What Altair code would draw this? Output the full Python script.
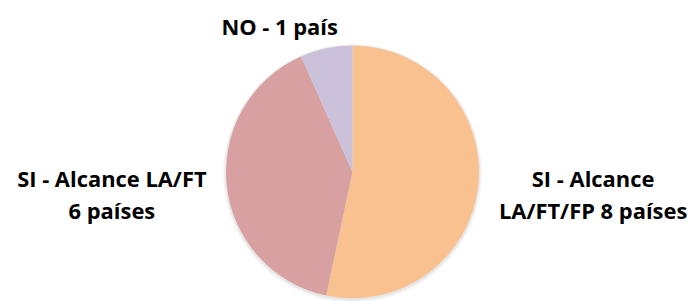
import altair as alt
import pandas as pd

categorias = ["SI - Alcance LA/FT/FP", "SI - Alcance LA/FT", "NO"]
paises = [8, 6, 1]
etiquetas = ["SI - Alcance\nLA/FT/FP 8 países", "SI - Alcance LA/FT\n6 países", "NO - 1 país"]
orden = [1, 2, 3]
colores = ["#F9C18F", "#D8A0A0", "#CCC1DA"]

df = pd.DataFrame({"categoria": categorias, "paises": paises,
                   "etiqueta": etiquetas, "orden": orden})

cx, cy = 346, 164
fuente = "Open Sans"
tam = 22

base = alt.Chart(df).encode(
    theta=alt.Theta("paises:Q", stack=True),
    order=alt.Order("orden:Q"),
)

sombra1 = base.mark_arc(outerRadius=130, stroke=None, color="#000000", opacity=0.035).encode(
    x=alt.value(cx), y=alt.value(cy + 1.5),
)
sombra2 = base.mark_arc(outerRadius=128.5, stroke=None, color="#000000", opacity=0.06).encode(
    x=alt.value(cx), y=alt.value(cy + 1),
)

pie = base.mark_arc(outerRadius=127, stroke=None).encode(
    color=alt.Color("categoria:N", scale=alt.Scale(domain=categorias, range=colores), legend=None),
    x=alt.value(cx), y=alt.value(cy),
)

si_text = base.transform_filter(alt.datum.categoria != "NO").mark_text(
    radius=243, dy=-17, font=fuente, fontSize=tam, fontWeight="bold", color="#000000",
    lineBreak="\n", lineHeight=32, align="center", baseline="middle",
).encode(text="etiqueta:N", x=alt.value(cx), y=alt.value(cy))

no_text = base.mark_text(
    radius=150, dx=-42, dy=2, font=fuente, fontSize=tam, fontWeight="bold", color="#000000",
    align="center", baseline="middle",
).encode(
    text=alt.condition(alt.datum.categoria == "NO", "etiqueta:N", alt.value("")),
    x=alt.value(cx), y=alt.value(cy),
)

chart = alt.layer(sombra1, sombra2, pie, si_text, no_text).properties(
    width=680, height=285, padding=0
).configure_view(stroke=None)

chart.save("out.html", embed_options={"renderer": "svg", "actions": False})
